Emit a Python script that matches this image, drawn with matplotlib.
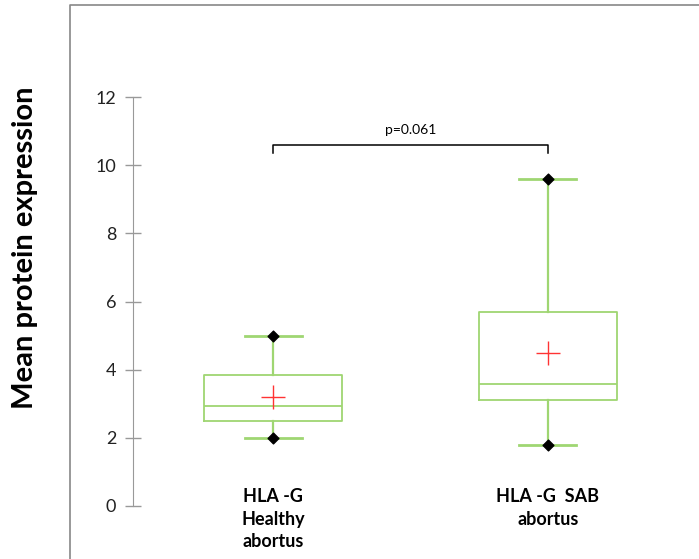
import matplotlib
matplotlib.use("Agg")
import matplotlib.pyplot as plt
from matplotlib.lines import Line2D

# group summaries (min, q1, median, q3, max, mean)
groups = ["HLA -G\nHealthy\nabortus", "HLA -G  SAB\nabortus"]
whisk_lo = [2.0, 1.8]
q1 = [2.49, 3.10]
median = [2.93, 3.57]
q3 = [3.83, 5.70]
whisk_hi = [5.0, 9.6]
means = [3.2, 4.5]
p_text = "p=0.061"
yticks = [0, 2, 4, 6, 8, 10, 12]

GREEN = "#9fd672"
AXIS = "#999999"
plt.rcParams["font.family"] = ["Lato", "DejaVu Sans"]

fig = plt.figure(figsize=(6.99, 5.59), dpi=100)
ax = fig.add_axes([133 / 699, 1 - 506 / 559, 555 / 699, 409 / 559])

stats = []
for i in range(len(groups)):
    stats.append(dict(whislo=whisk_lo[i], q1=q1[i], med=median[i], q3=q3[i],
                      whishi=whisk_hi[i], mean=means[i], fliers=[]))
pos = [1, 2]
ax.bxp(stats, positions=pos, widths=0.505, showmeans=False,
       boxprops=dict(color=GREEN, linewidth=1.3),
       medianprops=dict(color=GREEN, linewidth=1.3),
       whiskerprops=dict(color=GREEN, linewidth=1.6),
       capprops=dict(color=GREEN, linewidth=2.0), capwidths=0.207)

# min / max markers and means
ax.scatter(pos + pos, whisk_lo + whisk_hi, marker="D", s=30, color="black",
           zorder=4, clip_on=False)
ax.scatter(pos, means, marker="+", s=300, color="#ff3333", linewidths=1.0,
           zorder=4)

ax.set_xlim(0.49, 2.51)
ax.set_ylim(0, 12)
ax.set_yticks(yticks)
ax.set_xticks([])
for s in ["top", "right", "bottom"]:
    ax.spines[s].set_visible(False)
ax.spines["left"].set_color(AXIS)
ax.tick_params(axis="y", direction="inout", length=12, color=AXIS, width=1,
               labelsize=13, pad=6, labelcolor="#222222")

# significance bracket
yb, yd = 10.6, 10.35
ax.plot([1, 1, 2, 2], [yd, yb, yb, yd], color="black", lw=1.1, clip_on=False)
ax.text(1.5, 10.85, p_text, ha="center", va="bottom", fontsize=10)

# group labels below the boxes
for x, lab in zip(pos, groups):
    ax.text(x, 0.52, lab, ha="center", va="top", fontsize=13,
            fontweight="bold", linespacing=1.38, clip_on=False)

fig.text(25 / 699, 1 - 248 / 559, "Mean protein expression", rotation=90,
         ha="center", va="center", fontsize=21, fontweight="bold")

# outer frame (left and top edges)
fig.add_artist(Line2D([70 / 699, 70 / 699, 1.0], [0.0, 1 - 5 / 559, 1 - 5 / 559],
                      transform=fig.transFigure, color="#888888", lw=1.2))

fig.savefig("out.png", dpi=100)
